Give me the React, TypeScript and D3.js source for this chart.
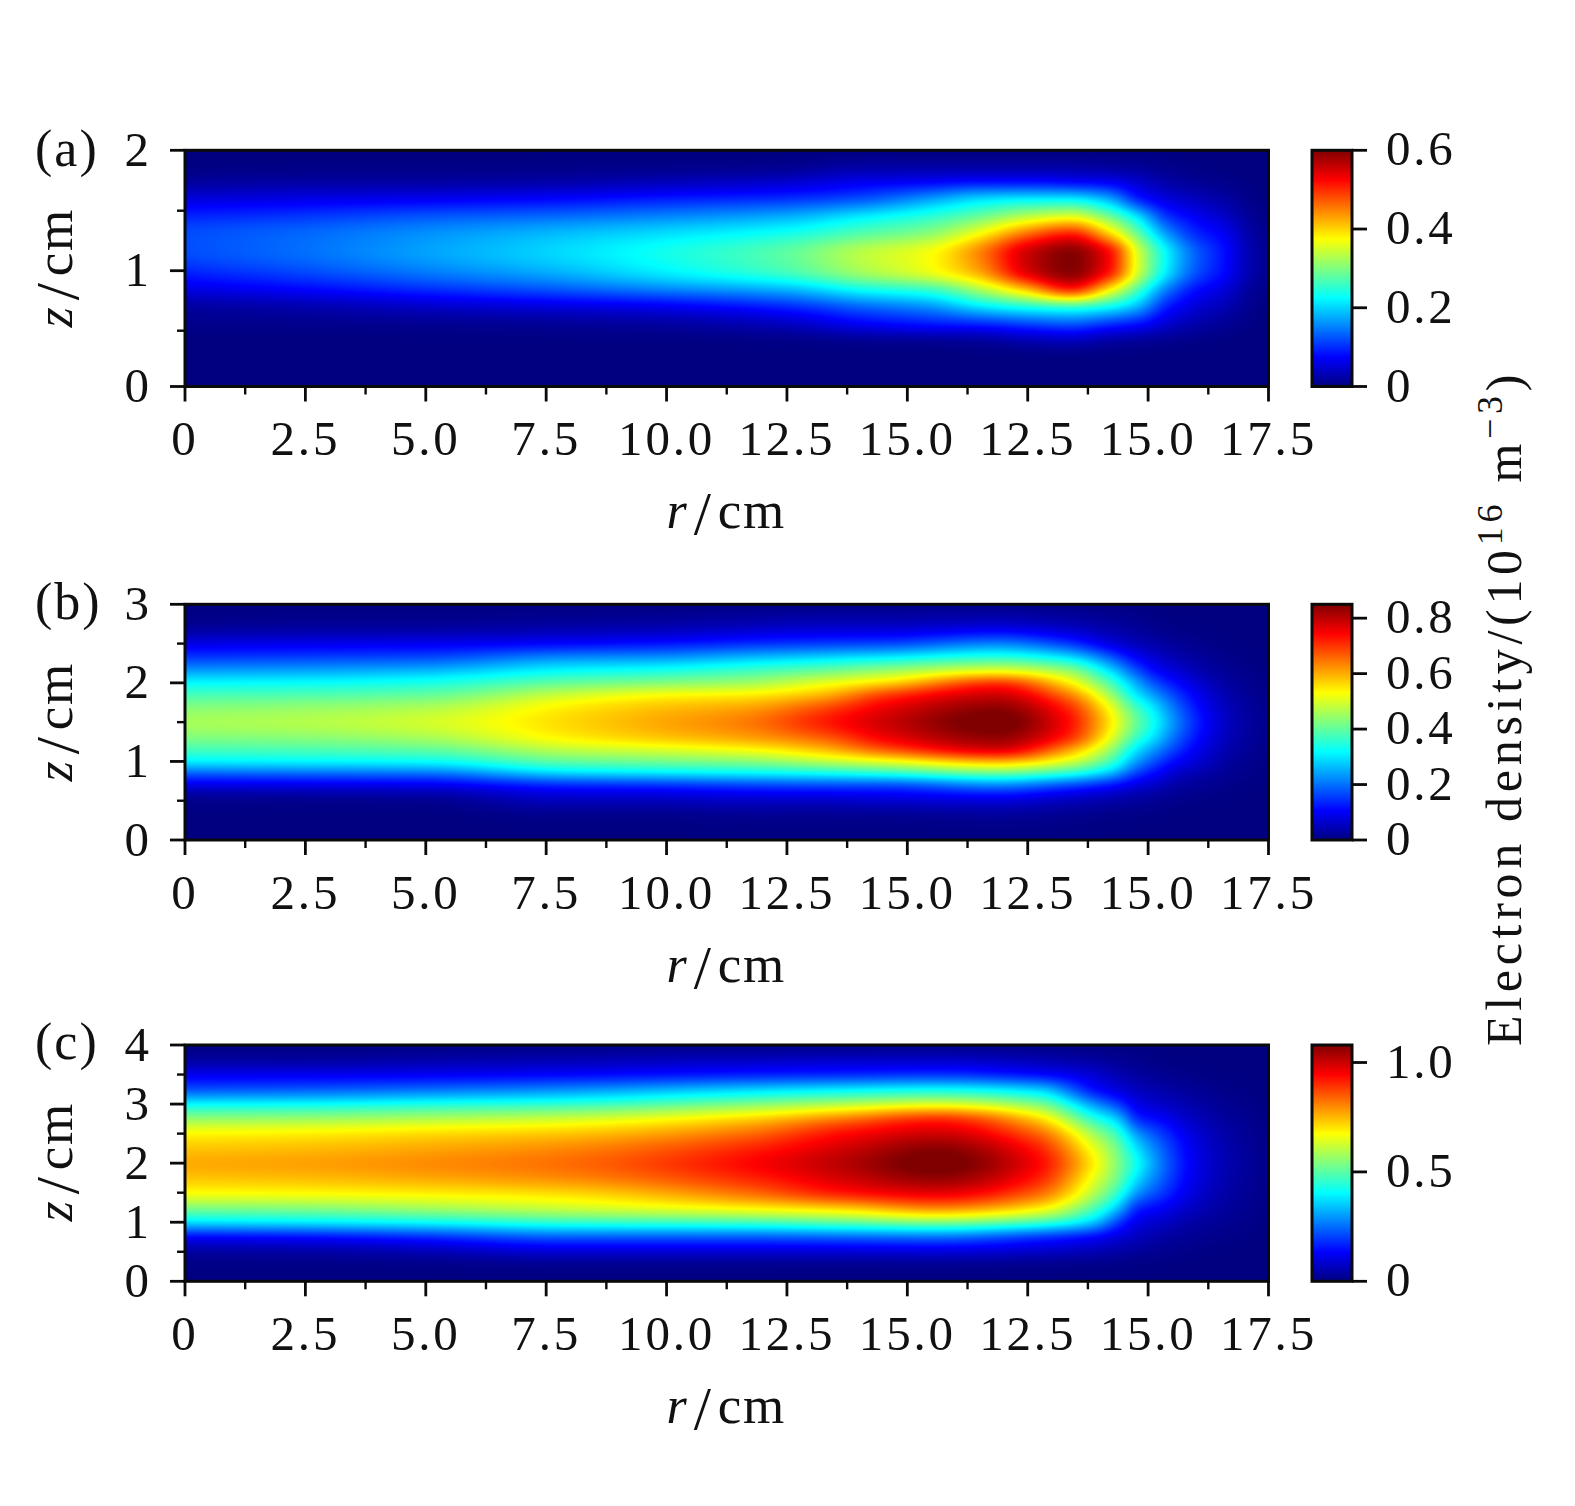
import React, { useMemo } from "react";
import * as d3 from "d3";

// ---------- data ----------
// Axis positions along r: the tick marks are evenly spaced; the printed labels repeat as in the original.
const rTickValues = [0, 2.5, 5, 7.5, 10, 12.5, 15, 17.5, 20, 22.5];
const rTickLabels = ["0", "2.5", "5.0", "7.5", "10.0", "12.5", "15.0", "12.5", "15.0", "17.5"];
const rMinorTicks = [1.25, 3.75, 6.25, 8.75, 11.25, 13.75, 16.25, 18.75, 21.25];

const panelNames = ["(a)", "(b)", "(c)"];
const colorbarMaxima = [0.6, 0.85, 1.08];
const colorbarTicksA = [0, 0.2, 0.4, 0.6];
const colorbarTicksB = [0, 0.2, 0.4, 0.6, 0.8];
const colorbarTicksC = [0, 0.5, 1.0];

// Sample columns (r) and rows (z). Each column of density lists values from z = 0 upward,
// written as a fraction of that panel's colour bar maximum.
const rSamplesA = [0, 2.5, 5, 7.5, 10, 12.5, 14, 15.5, 16.5, 17.5, 18.4, 19.2, 19.8, 20.4, 21, 21.6, 22.1, 22.5];
const zSamplesA = [0, 0.25, 0.4, 0.55, 0.7, 0.85, 1, 1.15, 1.3, 1.45, 1.6, 1.75, 1.875, 2];
const densityA = [
  [0, 0, 0, 0.01, 0.03, 0.1, 0.16, 0.2, 0.2, 0.16, 0.09, 0.025, 0.003, 0],
  [0, 0, 0, 0.012, 0.045, 0.13, 0.2, 0.235, 0.23, 0.18, 0.1, 0.03, 0.004, 0],
  [0, 0, 0.001, 0.015, 0.07, 0.17, 0.25, 0.285, 0.27, 0.21, 0.11, 0.03, 0.005, 0],
  [0, 0, 0.002, 0.02, 0.09, 0.21, 0.3, 0.335, 0.31, 0.23, 0.125, 0.035, 0.006, 0],
  [0, 0, 0.003, 0.03, 0.11, 0.26, 0.37, 0.395, 0.35, 0.26, 0.15, 0.05, 0.008, 0],
  [0, 0, 0.005, 0.06, 0.16, 0.31, 0.45, 0.47, 0.4, 0.3, 0.17, 0.07, 0.012, 0],
  [0, 0, 0.012, 0.11, 0.22, 0.39, 0.54, 0.56, 0.46, 0.36, 0.2, 0.1, 0.03, 0],
  [0, 0, 0.015, 0.14, 0.27, 0.44, 0.62, 0.625, 0.52, 0.42, 0.28, 0.11, 0.03, 0],
  [0, 0, 0.02, 0.15, 0.35, 0.55, 0.72, 0.75, 0.63, 0.48, 0.34, 0.12, 0.03, 0],
  [0, 0, 0.04, 0.18, 0.4, 0.7, 0.92, 0.93, 0.78, 0.56, 0.36, 0.12, 0.03, 0],
  [0, 0, 0.05, 0.2, 0.42, 0.86, 1, 1, 0.86, 0.6, 0.36, 0.11, 0.03, 0],
  [0, 0, 0.03, 0.16, 0.38, 0.65, 0.87, 0.88, 0.68, 0.49, 0.29, 0.1, 0.025, 0],
  [0, 0, 0.02, 0.13, 0.3, 0.45, 0.59, 0.59, 0.48, 0.35, 0.15, 0.07, 0.02, 0],
  [0, 0, 0.012, 0.075, 0.15, 0.25, 0.36, 0.37, 0.28, 0.175, 0.09, 0.035, 0.01, 0],
  [0, 0, 0.006, 0.04, 0.085, 0.14, 0.21, 0.22, 0.165, 0.115, 0.06, 0.02, 0.004, 0],
  [0, 0, 0.002, 0.02, 0.05, 0.09, 0.13, 0.135, 0.115, 0.07, 0.035, 0.01, 0.001, 0],
  [0, 0, 0, 0.005, 0.015, 0.03, 0.05, 0.05, 0.04, 0.025, 0.01, 0.003, 0, 0],
  [0, 0, 0, 0, 0.002, 0.006, 0.012, 0.012, 0.009, 0.004, 0.001, 0, 0, 0],
];

const rSamplesB = [0, 2.5, 5, 7.8, 9.8, 11.7, 13.2, 14.6, 16.86, 18.3, 19.25, 19.7, 20.15, 20.65, 21.2, 21.8, 22.5];
const zSamplesB = [0, 0.25, 0.5, 0.7, 0.85, 1, 1.15, 1.3, 1.5, 1.7, 1.85, 2, 2.15, 2.3, 2.5, 2.75, 3];
const densityB = [
  [0, 0, 0.01, 0.1, 0.22, 0.37, 0.44, 0.5, 0.54, 0.5, 0.44, 0.375, 0.28, 0.19, 0.1, 0.015, 0],
  [0, 0, 0.012, 0.105, 0.23, 0.375, 0.45, 0.51, 0.555, 0.515, 0.45, 0.38, 0.29, 0.2, 0.105, 0.02, 0],
  [0, 0, 0.015, 0.11, 0.24, 0.385, 0.47, 0.54, 0.585, 0.54, 0.47, 0.4, 0.31, 0.21, 0.11, 0.02, 0],
  [0, 0.005, 0.06, 0.16, 0.34, 0.47, 0.56, 0.635, 0.66, 0.635, 0.57, 0.47, 0.375, 0.28, 0.125, 0.03, 0],
  [0, 0.005, 0.06, 0.17, 0.36, 0.49, 0.59, 0.68, 0.71, 0.68, 0.62, 0.5, 0.4, 0.29, 0.14, 0.035, 0],
  [0, 0.01, 0.07, 0.19, 0.375, 0.51, 0.625, 0.72, 0.76, 0.71, 0.64, 0.53, 0.44, 0.33, 0.165, 0.05, 0.003],
  [0, 0.01, 0.07, 0.2, 0.39, 0.56, 0.69, 0.78, 0.85, 0.79, 0.69, 0.6, 0.48, 0.36, 0.18, 0.06, 0.003],
  [0, 0.01, 0.08, 0.2, 0.42, 0.61, 0.8, 0.89, 0.93, 0.89, 0.82, 0.66, 0.53, 0.39, 0.19, 0.06, 0.004],
  [0, 0.015, 0.09, 0.26, 0.48, 0.7, 0.92, 0.98, 1.02, 0.98, 0.92, 0.83, 0.6, 0.44, 0.25, 0.07, 0.005],
  [0, 0.01, 0.06, 0.2, 0.42, 0.6, 0.73, 0.85, 0.88, 0.84, 0.76, 0.65, 0.53, 0.38, 0.18, 0.05, 0.003],
  [0, 0.005, 0.04, 0.14, 0.31, 0.44, 0.52, 0.6, 0.64, 0.6, 0.52, 0.44, 0.34, 0.23, 0.09, 0.03, 0.002],
  [0, 0.004, 0.03, 0.1, 0.2, 0.3, 0.37, 0.45, 0.5, 0.45, 0.37, 0.31, 0.22, 0.14, 0.06, 0.02, 0.001],
  [0, 0.002, 0.02, 0.07, 0.13, 0.2, 0.27, 0.34, 0.38, 0.34, 0.27, 0.2, 0.13, 0.085, 0.04, 0.01, 0],
  [0, 0.001, 0.01, 0.035, 0.07, 0.12, 0.17, 0.21, 0.24, 0.21, 0.17, 0.125, 0.08, 0.05, 0.02, 0.005, 0],
  [0, 0, 0.005, 0.02, 0.04, 0.07, 0.09, 0.11, 0.125, 0.11, 0.09, 0.065, 0.04, 0.025, 0.01, 0.002, 0],
  [0, 0, 0.002, 0.008, 0.015, 0.025, 0.035, 0.045, 0.05, 0.045, 0.035, 0.025, 0.015, 0.008, 0.003, 0, 0],
  [0, 0, 0, 0.001, 0.003, 0.005, 0.007, 0.009, 0.01, 0.009, 0.007, 0.005, 0.003, 0.001, 0, 0, 0],
];

const rSamplesC = [0, 2.5, 5, 7.8, 11.7, 13.7, 15.6, 17.7, 18.9, 19.35, 19.8, 20.3, 20.85, 21.6, 22.5];
const zSamplesC = [0, 0.25, 0.5, 0.75, 1, 1.25, 1.5, 1.75, 2, 2.25, 2.5, 2.75, 3, 3.25, 3.5, 3.75, 4];
const densityC = [
  [0, 0.005, 0.03, 0.12, 0.35, 0.5, 0.625, 0.68, 0.71, 0.68, 0.63, 0.52, 0.375, 0.2, 0.11, 0.03, 0],
  [0, 0.005, 0.035, 0.13, 0.36, 0.51, 0.63, 0.69, 0.72, 0.69, 0.64, 0.53, 0.38, 0.21, 0.11, 0.03, 0],
  [0, 0.006, 0.05, 0.16, 0.38, 0.54, 0.64, 0.71, 0.74, 0.71, 0.66, 0.55, 0.4, 0.23, 0.115, 0.04, 0.001],
  [0, 0.01, 0.08, 0.21, 0.42, 0.58, 0.66, 0.74, 0.77, 0.74, 0.68, 0.58, 0.42, 0.26, 0.125, 0.05, 0.002],
  [0, 0.01, 0.08, 0.21, 0.44, 0.64, 0.77, 0.84, 0.875, 0.84, 0.77, 0.67, 0.5, 0.33, 0.15, 0.065, 0.003],
  [0, 0.011, 0.082, 0.22, 0.47, 0.68, 0.86, 0.92, 0.95, 0.92, 0.87, 0.76, 0.55, 0.36, 0.16, 0.07, 0.004],
  [0, 0.012, 0.085, 0.23, 0.5, 0.75, 0.9, 0.98, 1.02, 0.99, 0.92, 0.84, 0.59, 0.38, 0.17, 0.07, 0.005],
  [0, 0.008, 0.07, 0.17, 0.44, 0.65, 0.78, 0.85, 0.88, 0.85, 0.78, 0.67, 0.5, 0.33, 0.13, 0.05, 0.003],
  [0, 0.006, 0.05, 0.12, 0.32, 0.45, 0.55, 0.6, 0.635, 0.6, 0.53, 0.41, 0.27, 0.13, 0.08, 0.03, 0.002],
  [0, 0.005, 0.037, 0.09, 0.19, 0.33, 0.43, 0.49, 0.51, 0.49, 0.43, 0.33, 0.19, 0.09, 0.05, 0.02, 0.001],
  [0, 0.003, 0.025, 0.06, 0.1, 0.16, 0.27, 0.34, 0.38, 0.34, 0.27, 0.16, 0.1, 0.06, 0.03, 0.012, 0.001],
  [0, 0.002, 0.015, 0.035, 0.07, 0.12, 0.18, 0.22, 0.24, 0.22, 0.18, 0.12, 0.07, 0.04, 0.017, 0.005, 0],
  [0, 0, 0.008, 0.02, 0.04, 0.07, 0.1, 0.118, 0.125, 0.118, 0.1, 0.07, 0.045, 0.025, 0.01, 0.003, 0],
  [0, 0, 0.002, 0.009, 0.018, 0.03, 0.04, 0.047, 0.05, 0.047, 0.04, 0.03, 0.018, 0.009, 0.003, 0, 0],
  [0, 0, 0, 0.001, 0.002, 0.004, 0.006, 0.007, 0.008, 0.007, 0.006, 0.004, 0.002, 0.001, 0, 0, 0],
];

const zMajorA = [0, 1, 2];
const zMinorA = [0.5, 1.5];
const zMajorB = [0, 1, 2, 3];
const zMinorB = [0.5, 1.5, 2.5];
const zMajorC = [0, 1, 2, 3, 4];
const zMinorC = [0.5, 1.5, 2.5, 3.5];

// ---------- layout ----------
const W = 1575;
const H = 1506;
const LEFT = 185;
const RIGHT = 1268.5;
const CB_LEFT = 1312;
const CB_RIGHT = 1352;
const FONT = "'Liberation Serif', serif";
const FS = 49;
const SHADE_BLUR_PX = 4;

const jet = d3
  .scaleLinear<string>()
  .domain([0, 0.125, 0.375, 0.625, 0.875, 1])
  .range(["#000080", "#0000ff", "#00ffff", "#ffff00", "#ff0000", "#800000"])
  .clamp(true);

const xScale = d3.scaleLinear().domain([0, 22.5]).range([LEFT, RIGHT]);

// Shape-preserving cubic through the sampled values, used only to shade between samples.
function smooth(xs: number[], ys: number[]) {
  const n = xs.length;
  const h = xs.slice(1).map((x, i) => x - xs[i]);
  const s = h.map((d, i) => (ys[i + 1] - ys[i]) / d);
  const m = xs.map((_, i) => {
    if (i === 0) return s[0];
    if (i === n - 1) return s[n - 2];
    if (s[i - 1] * s[i] <= 0) return 0;
    const w1 = 2 * h[i] + h[i - 1];
    const w2 = h[i] + 2 * h[i - 1];
    return (w1 + w2) / (w1 / s[i - 1] + w2 / s[i]);
  });
  const bis = d3.bisector((d: number) => d).right;
  return (x: number) => {
    const i = Math.max(0, Math.min(n - 2, bis(xs, x) - 1));
    const t = (x - xs[i]) / h[i];
    const t2 = t * t;
    const t3 = t2 * t;
    return (
      (2 * t3 - 3 * t2 + 1) * ys[i] +
      (t3 - 2 * t2 + t) * h[i] * m[i] +
      (-2 * t3 + 3 * t2) * ys[i + 1] +
      (t3 - t2) * h[i] * m[i + 1]
    );
  };
}

function heatmapUrl(rs: number[], zs: number[], columns: number[][], zScale: d3.ScaleLinear<number, number>) {
  const [yBottom, yTop] = [zScale.range()[0], zScale.range()[zScale.range().length - 1]];
  const w = Math.round(RIGHT - LEFT);
  const h = Math.round(yBottom - yTop);
  const canvas = document.createElement("canvas");
  canvas.width = w;
  canvas.height = h;
  const ctx = canvas.getContext("2d")!;
  const img = ctx.createImageData(w, h);
  const colFns = columns.map((c) => smooth(zs, c));
  const field = new Float32Array(w * h);
  for (let py = 0; py < h; py++) {
    const z = zScale.invert(yTop + py + 0.5);
    const rowFn = smooth(rs, colFns.map((f) => f(z)));
    for (let px = 0; px < w; px++) {
      field[py * w + px] = rowFn(xScale.invert(LEFT + px + 0.5));
    }
  }
  d3.blur2({ data: field, width: w, height: h }, SHADE_BLUR_PX);
  for (let i = 0; i < field.length; i++) {
    const c = d3.rgb(jet(field[i]));
    const o = i * 4;
    img.data[o] = c.r;
    img.data[o + 1] = c.g;
    img.data[o + 2] = c.b;
    img.data[o + 3] = 255;
  }
  ctx.putImageData(img, 0, 0);
  return canvas.toDataURL();
}

function AxisTitle({ letter }: { letter: string }) {
  return (
    <>
      <tspan fontStyle="italic" fontSize={52}>{letter}</tspan>
      <tspan fontSize={62} dx={7} dy={6}>/</tspan>
      <tspan fontSize={53} dx={7} dy={-6} letterSpacing={1.5}>cm</tspan>
    </>
  );
}

type PanelProps = {
  name: string;
  rs: number[];
  zs: number[];
  columns: number[][];
  zScale: d3.ScaleLinear<number, number>;
  zMajor: number[];
  zMinor: number[];
  cbMax: number;
  cbTicks: number[];
  nameBaseline: number;
  zTitleCenter: number;
  rTitleBaseline: number;
};

function Panel(p: PanelProps) {
  const range = p.zScale.range();
  const bottom = range[0];
  const top = range[range.length - 1];
  const url = useMemo(() => heatmapUrl(p.rs, p.zs, p.columns, p.zScale), []);
  const cbScale = d3.scaleLinear().domain([0, p.cbMax]).range([bottom, top]);
  const textProps = { fontFamily: FONT, fontSize: FS, fill: "#111" };
  return (
    <g>
      <image href={url} x={LEFT} y={top} width={RIGHT - LEFT} height={bottom - top} preserveAspectRatio="none" />
      <rect x={LEFT} y={top} width={RIGHT - LEFT} height={bottom - top} fill="none" stroke="#0a0a0a" strokeWidth={3} />
      {rTickValues.map((v, i) => (
        <g key={i}>
          <line x1={xScale(v)} x2={xScale(v)} y1={bottom} y2={bottom + 15} stroke="#0a0a0a" strokeWidth={2.8} />
          <text {...textProps} x={xScale(v)} y={bottom + 68.5} textAnchor="middle" letterSpacing={2.8}>
            {rTickLabels[i]}
          </text>
        </g>
      ))}
      {rMinorTicks.map((v) => (
        <line key={v} x1={xScale(v)} x2={xScale(v)} y1={bottom} y2={bottom + 8} stroke="#0a0a0a" strokeWidth={2.4} />
      ))}
      {p.zMajor.map((v) => (
        <g key={v}>
          <line x1={LEFT - 15} x2={LEFT} y1={p.zScale(v)} y2={p.zScale(v)} stroke="#0a0a0a" strokeWidth={2.8} />
          <text {...textProps} x={149} y={p.zScale(v) + 15.5} textAnchor="end">
            {v}
          </text>
        </g>
      ))}
      {p.zMinor.map((v) => (
        <line key={v} x1={LEFT - 8} x2={LEFT} y1={p.zScale(v)} y2={p.zScale(v)} stroke="#0a0a0a" strokeWidth={2.4} />
      ))}
      <text {...textProps} fontSize={52} x={35} y={p.nameBaseline} letterSpacing={2}>
        {p.name}
      </text>
      <text {...textProps} transform={`translate(72,${p.zTitleCenter}) rotate(-90)`} textAnchor="middle">
        <AxisTitle letter="z" />
      </text>
      <text {...textProps} x={726} y={p.rTitleBaseline} textAnchor="middle">
        <AxisTitle letter="r" />
      </text>
      <rect
        x={CB_LEFT}
        y={top}
        width={CB_RIGHT - CB_LEFT}
        height={bottom - top}
        fill="url(#jetBar)"
        stroke="#0a0a0a"
        strokeWidth={3}
      />
      {p.cbTicks.map((v) => (
        <g key={v}>
          <line x1={CB_RIGHT} x2={CB_RIGHT + 15} y1={cbScale(v)} y2={cbScale(v)} stroke="#0a0a0a" strokeWidth={2.8} />
          <text {...textProps} x={1386} y={cbScale(v) + 15} letterSpacing={2.8}>
            {v === 0 ? "0" : v.toFixed(1)}
          </text>
        </g>
      ))}
    </g>
  );
}

export default function App() {
  const zScaleA = d3.scaleLinear().domain([0, 0.5, 1, 1.5, 2]).range([386.5, 330.7, 270.7, 210.7, 150.3]);
  const zScaleB = d3.scaleLinear().domain([0, 3]).range([840, 604.3]);
  const zScaleC = d3.scaleLinear().domain([0, 4]).range([1281.3, 1045]);
  const stops = [0, 0.125, 0.375, 0.625, 0.875, 1];
  return (
    <svg width={W} height={H} viewBox={`0 0 ${W} ${H}`} style={{ position: "absolute", left: 0, top: 0 }}>
      <defs>
        <linearGradient id="jetBar" x1="0" x2="0" y1="1" y2="0">
          {stops.map((s) => (
            <stop key={s} offset={s} stopColor={jet(s)} />
          ))}
        </linearGradient>
      </defs>
      <rect width={W} height={H} fill="#fff" />
      <Panel
        name={panelNames[0]}
        rs={rSamplesA}
        zs={zSamplesA}
        columns={densityA}
        zScale={zScaleA}
        zMajor={zMajorA}
        zMinor={zMinorA}
        cbMax={colorbarMaxima[0]}
        cbTicks={colorbarTicksA}
        nameBaseline={166}
        zTitleCenter={268}
        rTitleBaseline={528}
      />
      <Panel
        name={panelNames[1]}
        rs={rSamplesB}
        zs={zSamplesB}
        columns={densityB}
        zScale={zScaleB}
        zMajor={zMajorB}
        zMinor={zMinorB}
        cbMax={colorbarMaxima[1]}
        cbTicks={colorbarTicksB}
        nameBaseline={619}
        zTitleCenter={722}
        rTitleBaseline={982}
      />
      <Panel
        name={panelNames[2]}
        rs={rSamplesC}
        zs={zSamplesC}
        columns={densityC}
        zScale={zScaleC}
        zMajor={zMajorC}
        zMinor={zMinorC}
        cbMax={colorbarMaxima[2]}
        cbTicks={colorbarTicksC}
        nameBaseline={1059}
        zTitleCenter={1162}
        rTitleBaseline={1423}
      />
      <text
        fontFamily={FONT}
        fontSize={50}
        fill="#111"
        transform="translate(1521,708) rotate(-90)"
        textAnchor="middle"
        letterSpacing={4.7}
      >
        Electron density/(10
        <tspan fontSize={36} dy={-19}>16</tspan>
        <tspan dy={19}> m</tspan>
        <tspan fontSize={36} dy={-19}>−3</tspan>
        <tspan dy={19}>)</tspan>
      </text>
    </svg>
  );
}
